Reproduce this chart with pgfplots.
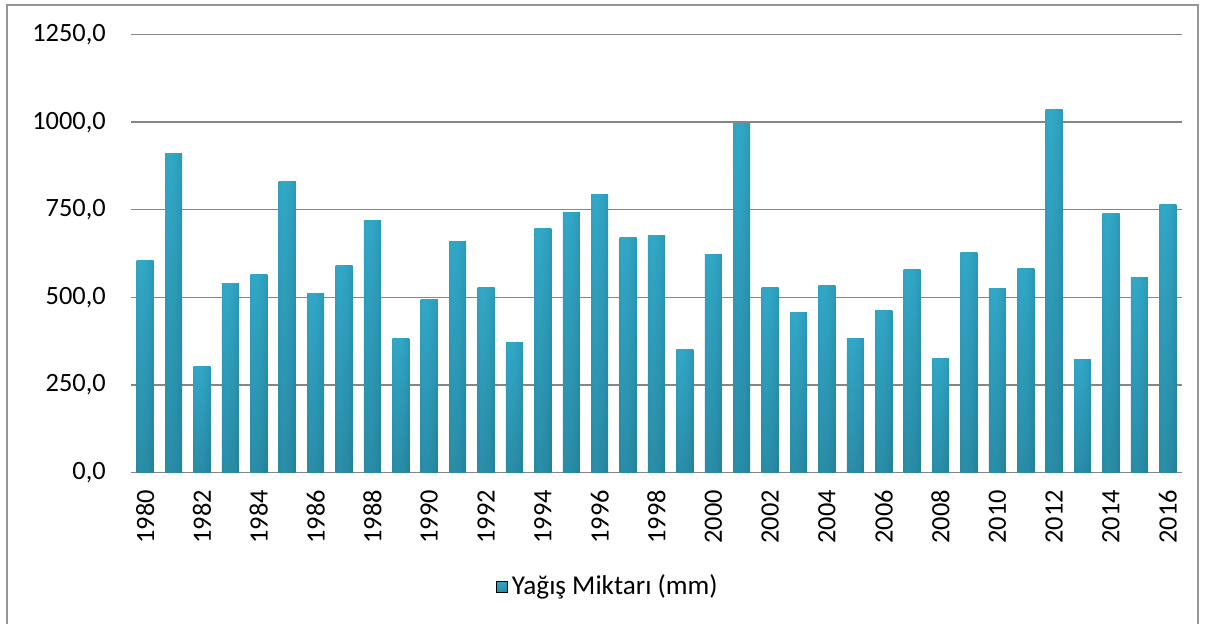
\documentclass[border=0pt]{standalone}
\usepackage{pgfplots}
\pgfplotsset{compat=1.18}
\usepackage{pgfplotstable}
\usepackage{fontspec}
\setmainfont{Carlito}
\definecolor{gridc}{RGB}{134,134,134}
\definecolor{framec}{RGB}{150,150,150}
\pgfdeclarefunctionalshading{cyl}{\pgfpoint{-50bp}{-50bp}}{\pgfpoint{50bp}{50bp}}{}{
  50 add 100 div exch 50 add 100 div
  0.35 sub dup 0 lt {0.35 div} {0.65 div} ifelse dup mul 1 exch sub sqrt
  exch 0.3 mul 0.72 add
  2 copy exch 34 mul 18 add mul 255 div
  3 1 roll
  2 copy exch 82 mul 95 add mul 255 div
  3 1 roll
  exch 88 mul 122 add mul 255 div
}
\pgfplotstableread{
year val
1980 605
1981 912
1982 301
1983 538
1984 566
1985 832
1986 510
1987 590
1988 718
1989 381
1990 494
1991 658
1992 527
1993 370
1994 695
1995 743
1996 793
1997 672
1998 676
1999 350
2000 621
2001 995
2002 527
2003 456
2004 535
2005 383
2006 463
2007 578
2008 325
2009 629
2010 526
2011 581
2012 1035
2013 321
2014 740
2015 556
2016 766
}\rain
\begin{document}
\fontsize{13.2}{15}\selectfont
\begin{tikzpicture}
\useasboundingbox (0,0) rectangle (602.5pt,311.5pt);
\fill[white] (0,0) rectangle (602.5pt,311.5pt);
\draw[framec, line width=0.75pt] (3.5pt,309pt) rectangle (599pt,-20pt);
\begin{axis}[
  at={(65.5pt,75.35pt)}, anchor=south west,
  scale only axis, width=525.5pt, height=218.8pt,
  ybar, bar width=0.6, bar shift=0pt,
  xmin=1979.5, xmax=2016.5, ymin=0, ymax=1250,
  xtick={1980,1982,...,2016},
  ytick={0,250,...,1250},
  axis line style={draw=none},
  tick style={draw=none},
  ymajorgrids, grid style={gridc, line width=0.75pt},
  /pgf/number format/assume math mode=true,
  ticklabel style={font=\fontsize{13.2}{15}\selectfont},
  x tick label style={rotate=90, anchor=east, /pgf/number format/1000 sep={}},
  y tick label style={/pgf/number format/fixed, /pgf/number format/fixed zerofill,
    /pgf/number format/precision=1, /pgf/number format/use comma,
    /pgf/number format/1000 sep={}, xshift=-8pt},
  legend style={at={(0.4548,-0.262)}, anchor=center, draw=none, fill=none,
    font=\fontsize{13.6}{15}\selectfont},
]
\pgfplotsforeachungrouped \i in {0,...,36}{
  \pgfplotstablegetelem{\i}{year}\of\rain \let\yr\pgfplotsretval
  \pgfplotstablegetelem{\i}{val}\of\rain \let\vl\pgfplotsretval
  \edef\doplot{\noexpand\addplot[draw=none, shade, shading=cyl, forget plot] coordinates {(\yr,\vl)};}
  \doplot
}
\addlegendimage{legend image code/.code={\path[shade, shading=cyl] (0pt,-2.7pt) rectangle (5.4pt,2.7pt);}}
\addlegendentry{Yağış Miktarı (mm)}
\end{axis}
\end{tikzpicture}
\end{document}
